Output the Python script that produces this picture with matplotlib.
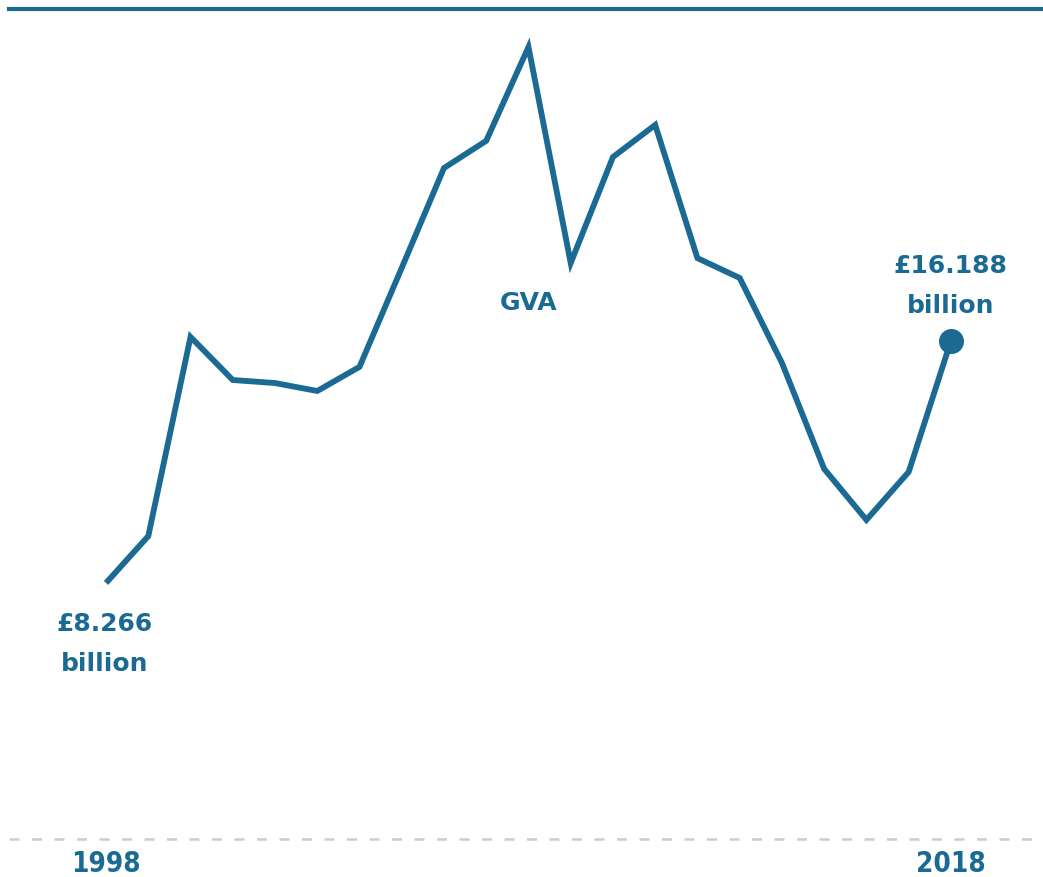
import matplotlib.pyplot as plt

years = list(range(1998, 2019))
gva = [8.266, 9.80, 16.32, 14.91, 14.81, 14.55, 15.34, 18.58, 21.85, 22.74, 25.81,
       18.74, 22.21, 23.26, 18.90, 18.25, 15.47, 12.00, 10.33, 11.90, 16.188]
tick_years = [1998, 2018]

blue = '#1a6a93'

fig = plt.figure(figsize=(10.43, 8.77), dpi=100)
ax = fig.add_axes([0, 0, 1, 1])
ax.set_xlim(1995.49, 2020.18)
ax.set_ylim(-1.36, 27.35)
ax.axis('off')

ax.plot(years, gva, color=blue, lw=4.2, solid_joinstyle='miter', solid_capstyle='butt')
ax.plot(years[-1], gva[-1], 'o', color=blue, ms=17)

# top rule and dashed baseline
ax.axhline(27.06, xmin=0.009, xmax=0.999, color=blue, lw=3)
ax.axhline(-0.115, xmin=0.009, xmax=0.999, color='#cccccc', lw=1.8, ls=(0, (4, 5)))

ax.text(years[0] - 0.04, gva[0] - 0.95, '£%.3f\nbillion' % gva[0], ha='center', va='top',
        color=blue, fontsize=18, fontweight='bold', linespacing=1.85)
ax.text(years[-1], gva[-1] + 0.75, '£%.3f\nbillion' % gva[-1], ha='center', va='bottom',
        color=blue, fontsize=18, fontweight='bold', linespacing=1.85)
ax.text(2008, 17.43, 'GVA', ha='center', va='center', color=blue, fontsize=18, fontweight='bold')

for yr in tick_years:
    ax.text(yr, -0.92, str(yr), ha='center', va='center', color=blue, fontsize=20,
            fontweight='bold', fontstretch='condensed', family='DejaVu Sans')

fig.savefig('out.png', dpi=100)
